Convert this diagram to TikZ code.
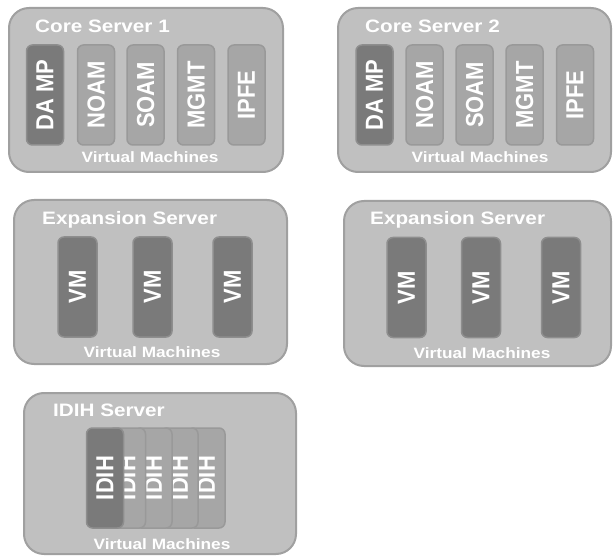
\documentclass[tikz,border=0pt]{standalone}
\usepackage{fontspec}
\setmainfont{Liberation Sans}
\newfontface\widebf[FakeStretch=1.15]{Liberation Sans Bold}
\usepackage{xcolor}

\definecolor{outerfill}{HTML}{C0C0C0}
\definecolor{outerline}{HTML}{A0A0A0}
\definecolor{lightfill}{HTML}{A6A6A6}
\definecolor{lightline}{HTML}{999999}
\definecolor{darkfill}{HTML}{7A7A7A}
\definecolor{darkline}{HTML}{8E8E8E}

\begin{document}
\begin{tikzpicture}[
        x=1pt, y=-1pt,
        % the big rounded server boxes
        server/.style={rectangle, rounded corners=20pt, draw=outerline, line width=2pt, fill=outerfill},
        % the upright virtual machine boxes (text turned by 90 degrees)
        vm/.style={rectangle, rotate=90, rounded corners=6pt, draw=lightline, line width=1.5pt, fill=lightfill,
            minimum width=100pt, minimum height=37pt, inner sep=0pt, text depth=0pt, text=white,
            font=\bfseries\fontsize{22}{22}\selectfont},
        vmdark/.style={vm, fill=darkfill, draw=darkline},
        % the texts in the server boxes
        title/.style={anchor=base west, inner sep=0pt, text=white, font=\widebf\fontsize{18}{18}\selectfont},
        caption/.style={anchor=base, inner sep=0pt, text=white, font=\widebf\fontsize{15}{15}\selectfont}
    ]
    \useasboundingbox (0,0) rectangle (613,556);

    % --- THE SERVERS ---
    \node (core1) [server, minimum width=274pt, minimum height=164pt] at (146,90) {};
    \node (core2) [server, minimum width=273pt, minimum height=164pt] at (474.5,90) {};
    \node (exp1) [server, minimum width=273pt, minimum height=164pt] at (150.5,282) {};
    \node (exp2) [server, minimum width=267pt, minimum height=165pt] at (477.5,283.5) {};
    \node (idih) [server, minimum width=272pt, minimum height=161pt] at (160,473.5) {};

    \node (core1title) [title] at (35,33) {Core Server 1};
    \node (core2title) [title] at (365,33) {Core Server 2};
    \node (exp1title) [title] at (42,225) {Expansion Server};
    \node (exp2title) [title] at (370,225) {Expansion Server};
    \node (idihtitle) [title] at (53,416.5) {IDIH Server};

    % --- CORE SERVER 1 ---
    \node (c1damp) [vmdark] at (45,95) {\scalebox{1}[1.12]{DA MP}};
    \node (c1noam) [vm] at (96,95) {\scalebox{1}[1.12]{NOAM}};
    \node (c1soam) [vm] at (145.5,95) {\scalebox{1}[1.12]{SOAM}};
    \node (c1mgmt) [vm] at (196,95) {\scalebox{1}[1.12]{MGMT}};
    \node (c1ipfe) [vm] at (246.5,95) {\scalebox{1}[1.12]{IPFE}};

    % --- CORE SERVER 2 ---
    \node (c2damp) [vmdark] at (374.5,95) {\scalebox{1}[1.12]{DA MP}};
    \node (c2noam) [vm] at (424.5,95) {\scalebox{1}[1.12]{NOAM}};
    \node (c2soam) [vm] at (474.5,95) {\scalebox{1}[1.12]{SOAM}};
    \node (c2mgmt) [vm] at (524.5,95) {\scalebox{1}[1.12]{MGMT}};
    \node (c2ipfe) [vm] at (575,95) {\scalebox{1}[1.12]{IPFE}};

    % --- EXPANSION SERVERS ---
    \node (e1vma) [vmdark, minimum height=39pt] at (77.5,287) {\scalebox{1}[1.12]{VM}};
    \node (e1vmb) [vmdark, minimum height=39pt] at (152.5,287) {\scalebox{1}[1.12]{VM}};
    \node (e1vmc) [vmdark, minimum height=39pt] at (232.5,287) {\scalebox{1}[1.12]{VM}};
    \node (e2vma) [vmdark, minimum height=39pt] at (406.5,287.5) {\scalebox{1}[1.12]{VM}};
    \node (e2vmb) [vmdark, minimum height=39pt] at (481,287.5) {\scalebox{1}[1.12]{VM}};
    \node (e2vmc) [vmdark, minimum height=39pt] at (561,287.5) {\scalebox{1}[1.12]{VM}};

    % --- IDIH SERVER (stacked, back to front) ---
    \node (idih5) [vm] at (206.5,478) {\scalebox{1}[1.12]{IDIH}};
    \node (idih4) [vm] at (179.5,478) {\scalebox{1}[1.12]{IDIH}};
    \node (idih3) [vm] at (153.5,478) {\scalebox{1}[1.12]{IDIH}};
    \node (idih2) [vm] at (127,478) {\scalebox{1}[1.12]{IDIH}};
    \node (idih1) [vmdark] at (105,478) {\scalebox{1}[1.12]{IDIH}};

    % --- CAPTIONS ---
    \node (core1cap) [caption] at (150,163) {Virtual Machines};
    \node (core2cap) [caption] at (480,163) {Virtual Machines};
    \node (exp1cap) [caption] at (152,357) {Virtual Machines};
    \node (exp2cap) [caption] at (482,358) {Virtual Machines};
    \node (idihcap) [caption] at (162,549) {Virtual Machines};

\end{tikzpicture}
\end{document}
